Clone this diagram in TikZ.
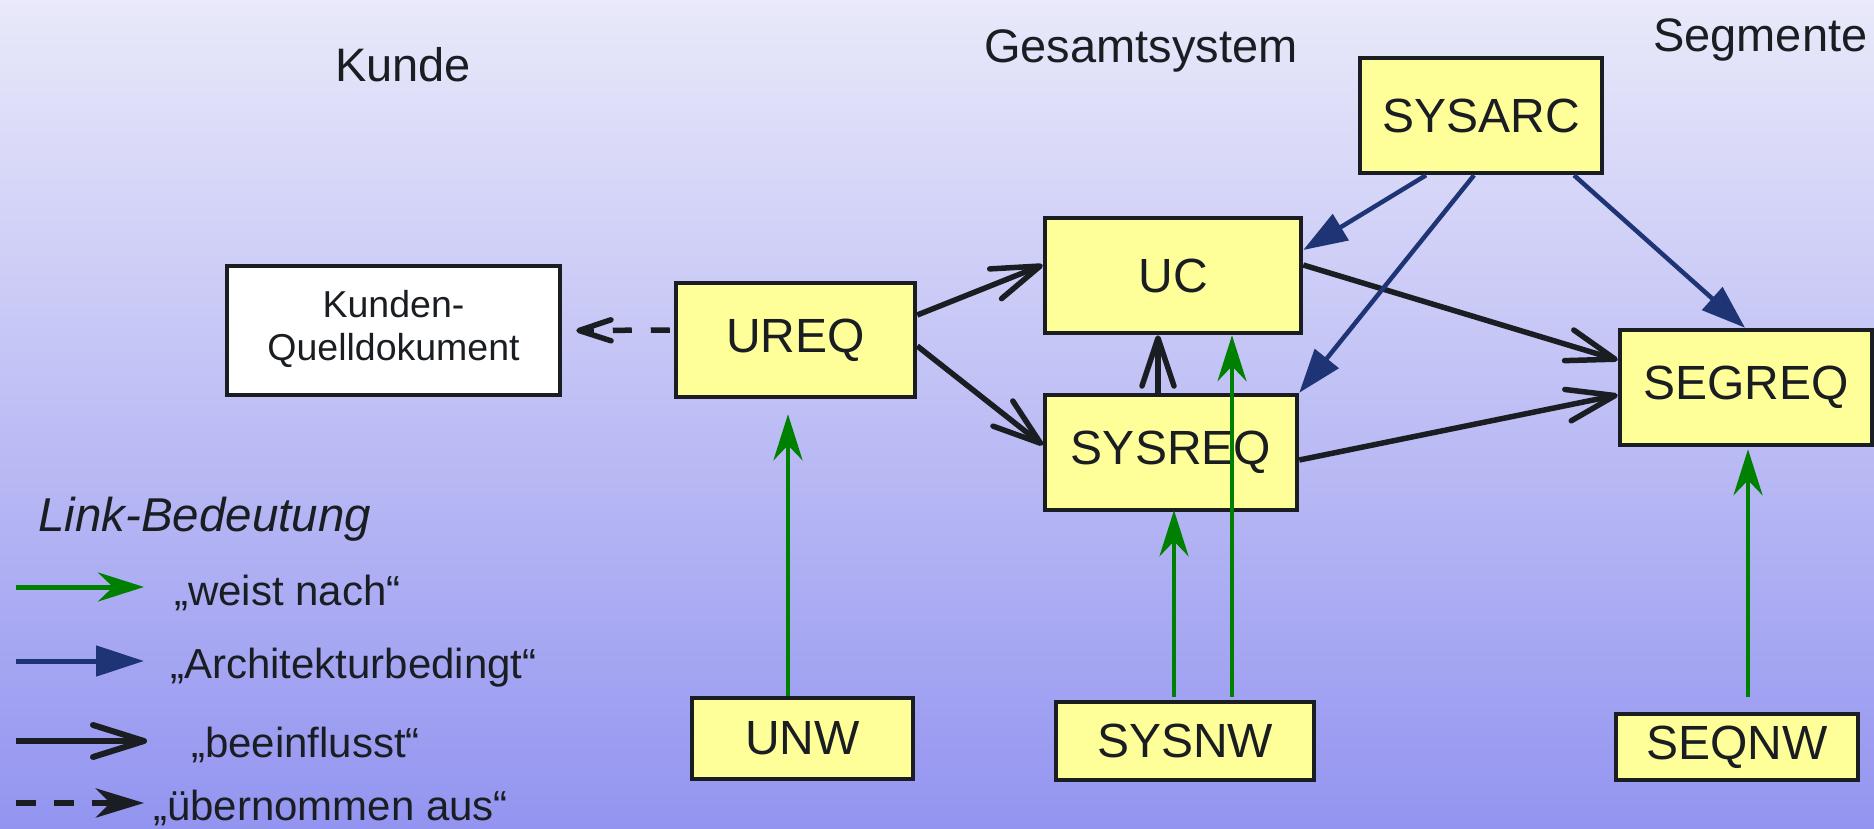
\documentclass[tikz,border=0pt]{standalone}
\usepackage{fontspec}
\setmainfont{Liberation Sans}
\usetikzlibrary{arrows.meta,calc}
\definecolor{bgtop}{RGB}{233,233,250}
\definecolor{bgbot}{RGB}{147,148,240}
\definecolor{boxfill}{RGB}{255,255,153}
\definecolor{ink}{RGB}{26,30,34}
\definecolor{grn}{RGB}{0,128,0}
\definecolor{navy}{RGB}{31,52,117}
\begin{document}
\begin{tikzpicture}[x=1pt,y=-1pt,
  box/.style={draw=ink, line width=4.5pt, fill=boxfill, inner sep=0pt, text=ink,
    font=\fontsize{48}{56}\selectfont},
  docbox/.style={box, fill=white, font=\fontsize{37.5}{43}\selectfont},
  heading/.style={anchor=base west, inner sep=0pt, text=ink, font=\fontsize{47}{56}\selectfont},
  legtext/.style={anchor=base west, inner sep=0pt, text=ink, font=\fontsize{42}{50}\selectfont},
  proves/.style={color=grn, line width=4.5pt, -{Stealth[length=46pt,width=29pt,inset=15pt]}},
  archi/.style={color=navy, line width=4.5pt, -{Triangle[length=44pt,width=30pt]}},
  infl/.style={color=ink, line width=5.5pt, -{Straight Barb[round,length=48pt,width=32pt]}},
  taken/.style={color=ink, line width=5.5pt, dash pattern=on 19pt off 19pt, dash phase=34pt,
    -{Straight Barb[round,length=32pt,width=21pt]}},
]
\shade[top color=bgtop, bottom color=bgbot] (0,0) rectangle (1874,829);
\useasboundingbox (0,0) rectangle (1874,829);

% headings
\node[heading] (hKunde) at (335,82) {Kunde};
\node[heading] (hGesamt) at (984,63) {Gesamtsystem};
\node[heading] (hSeg) at (1653,52) {Segmente};

% boxes
\node[docbox, minimum width=333pt, minimum height=129pt] (KQ) at (393.5,330.5)
  {\begin{tabular}{@{}c@{}}Kunden-\\Quelldokument\end{tabular}};
\node[box, minimum width=239pt, minimum height=114pt] (UREQ) at (795.5,340) {UREQ};
\node[box, minimum width=256pt, minimum height=115pt] (UC) at (1173,275.5) {UC};
\node[box, minimum width=252pt, minimum height=115pt] (SYSREQ) at (1171,452.5) {SYSREQ};
\node[box, minimum width=242pt, minimum height=115pt] (SYSARC) at (1481,115.5) {SYSARC};
\node[box, minimum width=252pt, minimum height=115pt] (SEGREQ) at (1746,387.5) {SEGREQ};
\node[box, minimum width=221pt, minimum height=81pt] (UNW) at (802.5,738.5) {UNW};
\node[box, minimum width=258pt, minimum height=78pt] (SYSNW) at (1185,741) {SYSNW};
\node[box, minimum width=242pt, minimum height=66pt] (SEQNW) at (1737,747) {SEQNW};

% connectors
\draw[taken] ([yshift=10pt]UREQ.west) -- ([xshift=14pt]KQ.east);
\draw[infl] ([yshift=25pt]UREQ.east) -- ([yshift=10.5pt]UC.west);
\draw[infl] ([yshift=-6pt]UREQ.east) -- ([yshift=7.5pt]SYSREQ.west);
\draw[infl] ([xshift=-13pt]SYSREQ.north) -- ([xshift=-15pt]UC.south);
\draw[infl] ([yshift=10.5pt]UC.east) -- ([yshift=27.5pt]SEGREQ.west);
\draw[infl] ([yshift=-7.5pt]SYSREQ.east) -- ([yshift=-7.5pt]SEGREQ.west);
\draw[archi] ([xshift=-55pt]SYSARC.south) -- ([yshift=25.5pt]UC.east);
\draw[archi] ([xshift=-7pt]SYSARC.south) -- (SYSREQ.north east);
\draw[archi] ([xshift=93pt]SYSARC.south) -- ([xshift=-1pt]SEGREQ.north);
\draw[proves] ([xshift=-14.5pt]UNW.north) -- ([xshift=-7.5pt,yshift=-15pt]UREQ.south);
\draw[proves] ([xshift=-11pt,yshift=3pt]SYSNW.north) -- ([xshift=3pt,yshift=2pt]SYSREQ.south);
\draw[proves] ([xshift=47pt,yshift=3pt]SYSNW.north) -- ([xshift=59pt]UC.south);
\draw[proves] ([xshift=11pt,yshift=15pt]SEQNW.north) -- ([xshift=2pt,yshift=-2pt]SEGREQ.south);

% legend
\node[heading, font=\fontsize{47.5}{56}\selectfont\itshape] (legtitle) at (38,531) {Link-Bedeutung};
\coordinate (g1) at (16,587); \coordinate (g2) at (144,587);
\coordinate (b1) at (16,661); \coordinate (b2) at (144,661);
\coordinate (k1) at (16,741); \coordinate (k2) at (147,741);
\coordinate (d1) at (16,803); \coordinate (d2) at (144,803);
\draw[proves, line width=5pt] (g1) -- (g2);
\draw[archi, line width=5pt, -{Triangle[length=48pt,width=30pt]}] (b1) -- (b2);
\draw[infl, line width=6pt, -{Straight Barb[round,length=51pt,width=32pt]}] (k1) -- (k2);
\draw[color=ink, line width=6pt, dash pattern=on 20pt off 18pt,
  -{Stealth[length=48pt,width=29pt,inset=14pt]}] (d1) -- (d2);
\node[legtext] (lg1) at (174,605) {„weist nach“};
\node[legtext] (lg2) at (170,678) {„Architekturbedingt“};
\node[legtext] (lg3) at (191,757) {„beeinflusst“};
\node[legtext] (lg4) at (153,820) {„übernommen aus“};
\end{tikzpicture}
\end{document}
